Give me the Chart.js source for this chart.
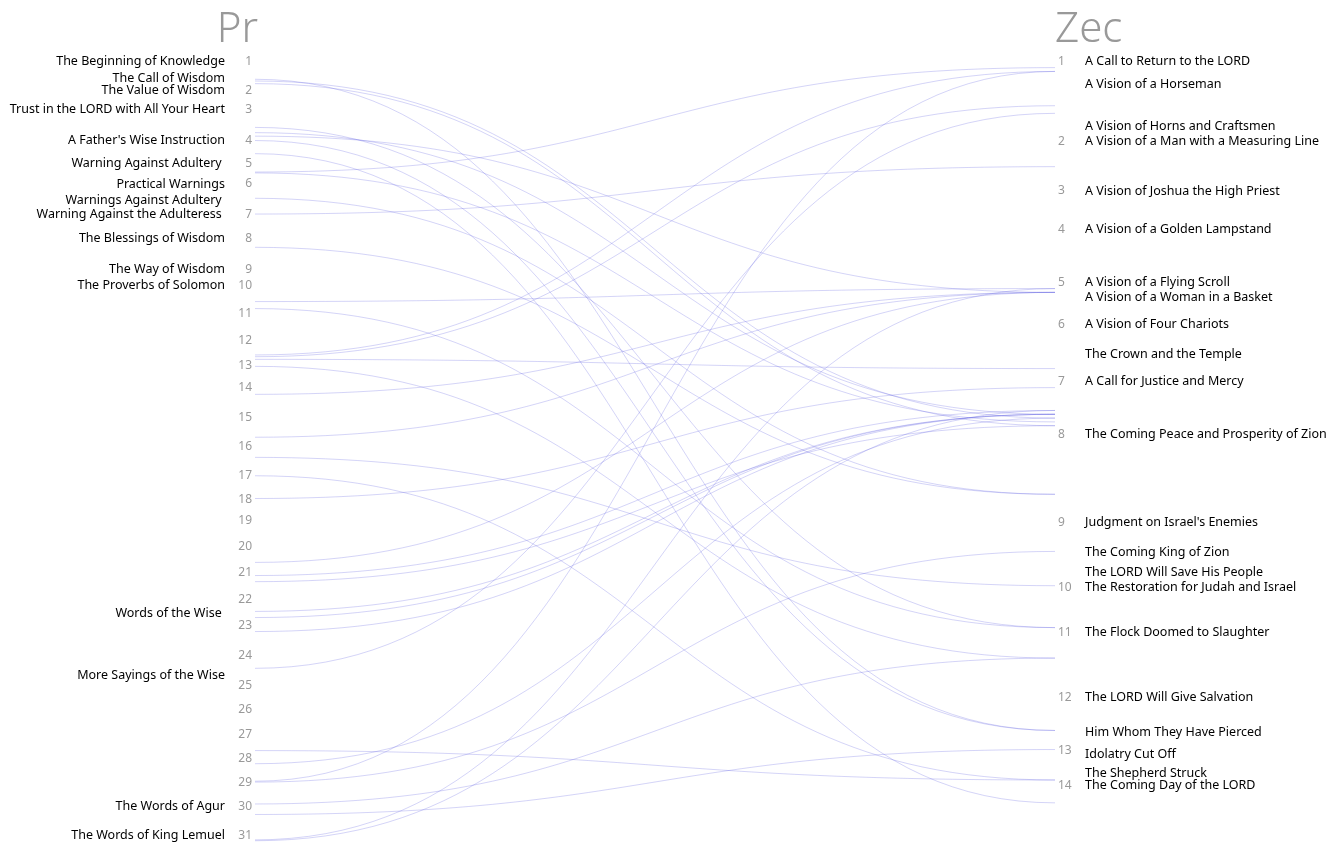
<!DOCTYPE html>
<html>
<head>
<meta charset="utf-8">
<title>Proverbs – Zechariah cross references</title>
<script src="https://cdn.jsdelivr.net/npm/chart.js@4.4.1/dist/chart.umd.min.js"></script>
<style>
  html, body { margin: 0; padding: 0; background: #ffffff; }
  #wrap { width: 1326px; height: 865px; position: relative; }
</style>
</head>
<body>
<div id="wrap"><canvas id="xrefChart"></canvas></div>
<script>
// Verses per chapter for each book
const proverbsChapterVerses = [33, 22, 35, 27, 23, 35, 27, 36, 18, 32, 31, 28, 25, 35, 33, 33, 28, 24, 29, 30, 31, 29, 35, 34, 28, 28, 27, 28, 27, 33, 31];
const zechariahChapterVerses = [21, 13, 10, 14, 11, 15, 14, 23, 17, 12, 17, 14, 9, 21];

// Section headings and where they start
const proverbsHeadings = [
  'The Beginning of Knowledge', 'The Call of Wisdom', 'The Value of Wisdom',
  'Trust in the LORD with All Your Heart', "A Father's Wise Instruction",
  'Warning Against Adultery ', 'Practical Warnings', 'Warnings Against Adultery ',
  'Warning Against the Adulteress ', 'The Blessings of Wisdom', 'The Way of Wisdom',
  'The Proverbs of Solomon', 'Words of the Wise ', 'More Sayings of the Wise',
  'The Words of Agur', 'The Words of King Lemuel'
];
const proverbsHeadingRefs = ['1:1', '1:20', '2:1', '3:1', '4:1', '5:1', '6:1', '6:20', '7:1', '8:1', '9:1', '10:1', '22:17', '24:23', '30:1', '31:1'];

const zechariahHeadings = [
  'A Call to Return to the LORD', 'A Vision of a Horseman', 'A Vision of Horns and Craftsmen',
  'A Vision of a Man with a Measuring Line', 'A Vision of Joshua the High Priest',
  'A Vision of a Golden Lampstand', 'A Vision of a Flying Scroll', 'A Vision of a Woman in a Basket',
  'A Vision of Four Chariots', 'The Crown and the Temple', 'A Call for Justice and Mercy',
  'The Coming Peace and Prosperity of Zion', "Judgment on Israel's Enemies", 'The Coming King of Zion',
  'The LORD Will Save His People', 'The Restoration for Judah and Israel', 'The Flock Doomed to Slaughter',
  'The LORD Will Give Salvation', 'Him Whom They Have Pierced', 'Idolatry Cut Off',
  'The Shepherd Struck', 'The Coming Day of the LORD'
];
const zechariahHeadingRefs = ['1:1', '1:7', '1:18', '2:1', '3:1', '4:1', '5:1', '5:5', '6:1', '6:9', '7:1', '8:1', '9:1', '9:9', '9:14', '10:1', '11:1', '12:1', '12:10', '13:2', '13:7', '14:1'];

// Cross references: proverbsLinks[i] <-> zechariahLinks[i]
const proverbsLinks = [
  '1:23', '1:25', '1:28', '3:23', '3:29', '3:33', '4:3', '4:18', '5:12', '5:13',
  '6:19', '7:2', '8:13', '10:21', '10:29', '12:19', '12:21', '12:24', '13:4', '14:11',
  '15:25', '16:15', '17:3', '18:1', '20:21', '21:6', '21:13', '22:16', '22:23', '23:10',
  '24:17', '27:21', '28:9', '29:1', '29:2', '29:27', '30:12', '31:8', '31:9'
];
const zechariahLinks = [
  '12:10', '7:11', '7:13', '10:12', '7:10', '5:4', '12:10', '14:6', '1:3', '7:12',
  '8:17', '2:8', '8:17', '5:3', '10:12', '1:4', '1:13', '6:13', '11:8', '5:4',
  '5:4', '10:1', '13:9', '7:3', '5:4', '7:9', '7:13', '7:10', '7:10', '7:10',
  '1:15', '13:9', '7:11', '1:4', '9:9', '11:8', '13:1', '5:3', '7:9'
];

function chapterStarts(counts) {
  const starts = [];
  let sum = 0;
  counts.forEach(c => { starts.push(sum); sum += c; });
  return starts;
}

const prStarts = chapterStarts(proverbsChapterVerses);
const zecStarts = chapterStarts(zechariahChapterVerses);
const prTotal = proverbsChapterVerses.reduce((a, b) => a + b, 0);
const zecTotal = zechariahChapterVerses.reduce((a, b) => a + b, 0);

// "ch:v" -> running verse index within the book
function verseIndex(starts, ref) {
  const [ch, v] = ref.split(':').map(Number);
  return starts[ch - 1] + v - 1;
}

const prChapterLabels = prStarts.map((s, i) => String(i + 1));
const zecChapterLabels = zecStarts.map((s, i) => String(i + 1));
const prHeadingPos = proverbsHeadingRefs.map(r => verseIndex(prStarts, r));
const zecHeadingPos = zechariahHeadingRefs.map(r => verseIndex(zecStarts, r));

const FONT = '"Noto Sans", "Open Sans", sans-serif';

// Draws the cross reference curves between the two hidden point sets
const linkCurves = {
  id: 'linkCurves',
  afterDatasetsDraw(chart) {
    const left = chart.getDatasetMeta(0).data;
    const right = chart.getDatasetMeta(1).data;
    const ctx = chart.ctx;
    ctx.save();
    ctx.strokeStyle = 'rgba(95, 95, 225, 0.3)';
    ctx.lineWidth = 0.9;
    left.forEach((p, i) => {
      const q = right[i];
      const mx = (p.x + q.x) / 2;
      ctx.beginPath();
      ctx.moveTo(p.x, p.y);
      ctx.bezierCurveTo(mx, p.y, mx, q.y, q.x, q.y);
      ctx.stroke();
    });
    ctx.restore();
  }
};

// Book names above the axes
const bookTitles = {
  id: 'bookTitles',
  afterDraw(chart) {
    const { ctx, chartArea } = chart;
    ctx.save();
    ctx.fillStyle = '#999999';
    ctx.font = '300 42px ' + FONT;
    ctx.textBaseline = 'alphabetic';
    ctx.textAlign = 'right';
    ctx.fillText('Pr', chartArea.left + 3, 42);
    ctx.textAlign = 'left';
    ctx.fillText('Zec', chartArea.right, 42);
    ctx.restore();
  }
};

function labelAxis(position, weight, max, positions, labels, width, color, padding, size) {
  return {
    type: 'linear',
    position: position,
    weight: weight,
    reverse: true,
    min: 0,
    max: max,
    grid: { display: false, drawTicks: false },
    border: { display: false },
    ticks: {
      autoSkip: false,
      padding: padding,
      labelOffset: 1.5,
      color: color,
      font: { family: FONT, size: size },
      callback: (value, index) => labels[index]
    },
    afterBuildTicks: scale => {
      scale.ticks = positions.map(v => ({ value: v }));
    },
    afterFit: scale => {
      scale.width = width;
      scale.paddingTop = 0;
      scale.paddingBottom = 0;
    }
  };
}

const ctx = document.getElementById('xrefChart').getContext('2d');

new Chart(ctx, {
  type: 'scatter',
  data: {
    datasets: [
      {
        label: 'Proverbs',
        data: proverbsLinks.map(r => ({ x: 0, y: verseIndex(prStarts, r) })),
        xAxisID: 'x',
        yAxisID: 'pr',
        pointRadius: 0,
        showLine: false
      },
      {
        label: 'Zechariah',
        data: zechariahLinks.map(r => ({ x: 1, y: verseIndex(zecStarts, r) })),
        xAxisID: 'x',
        yAxisID: 'zec',
        pointRadius: 0,
        showLine: false
      }
    ]
  },
  options: {
    responsive: true,
    maintainAspectRatio: false,
    animation: false,
    layout: { padding: { top: 60, bottom: 5, left: 0, right: 0 } },
    plugins: {
      legend: { display: false },
      tooltip: { enabled: false }
    },
    scales: {
      x: { type: 'linear', min: 0, max: 1, display: false },
      pr: labelAxis('left', 0, prTotal - 1, prStarts, prChapterLabels, 25, '#999999', 3, 12),
      prTitles: labelAxis('left', 1, prTotal - 1, prHeadingPos, proverbsHeadings, 230, '#000000', 5, 12.5),
      zec: labelAxis('right', 0, zecTotal - 1, zecStarts, zecChapterLabels, 25, '#999999', 3, 12),
      zecTitles: labelAxis('right', 1, zecTotal - 1, zecHeadingPos, zechariahHeadings, 246, '#000000', 5, 12.5)
    }
  },
  plugins: [linkCurves, bookTitles]
});
</script>
</body>
</html>
